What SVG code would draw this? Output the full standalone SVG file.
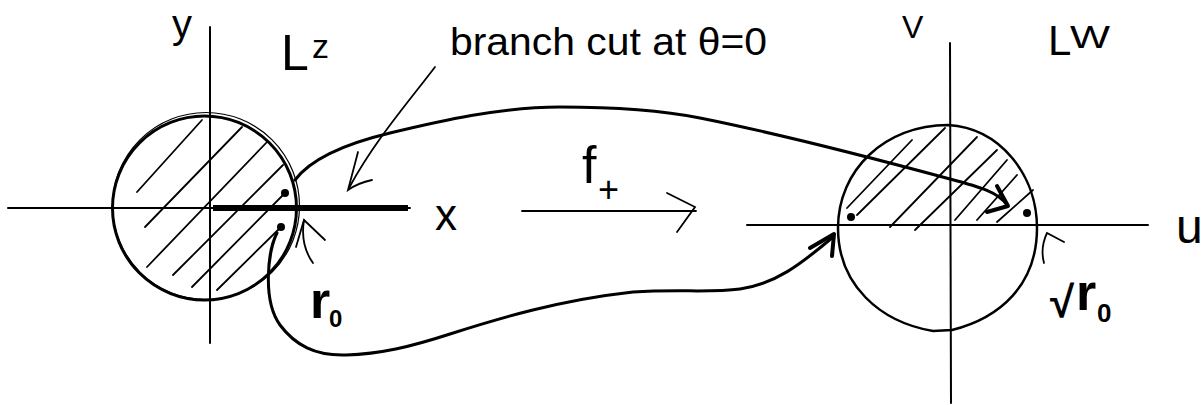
<svg xmlns="http://www.w3.org/2000/svg" width="1201" height="405" viewBox="0 0 1201 405">
<style>
.ax{stroke:#000;stroke-width:2;fill:none;stroke-linecap:round}
.ln{stroke:#000;stroke-width:1.8;fill:none;stroke-linecap:round}
.cv{stroke:#000;stroke-width:3;fill:none;stroke-linecap:round;stroke-linejoin:round}
.hd{stroke:#000;stroke-width:4;fill:none;stroke-linecap:round;stroke-linejoin:round}
.dot{fill:#000}
.t{font-family:"Liberation Sans","DejaVu Sans",sans-serif;fill:#000}
.b{font-weight:bold}
</style>
<rect width="1201" height="405" fill="#fff"/>
<g id="z-plane">
  <path class="ax" d="M8,208 L410,208"/>
  <path d="M213,208 L408,208" stroke="#000" stroke-width="6" stroke-linecap="butt"/>
  <path class="ax" d="M210,27 L210,343"/>
  <circle cx="204.5" cy="208" r="92" fill="none" stroke="#000" stroke-width="3"/>
  <circle cx="206" cy="206" r="93.5" fill="none" stroke="#000" stroke-width="1.2"/>
  <g class="ln">
    <path d="M137,192 L202,120"/>
    <path d="M145,227 L242,127"/>
    <path d="M147,267 L267,142"/>
    <path d="M173,275 L283,165"/>
    <path d="M192,287 L284,194"/>
    <path d="M217,290 L280,228"/>
  </g>
  <circle class="dot" cx="285" cy="193" r="4"/>
  <circle class="dot" cx="281" cy="227" r="4"/>
</g>
<g id="w-plane">
  <path class="ax" d="M747,225 L1148,225"/>
  <path class="ax" d="M950,43 L951,403"/>
  <path d="M838,228 C838,170 885,125 948,125 C1000,128 1037,175 1037,228 C1037,285 1000,318 952,330 L933,331 C880,322 838,285 838,228 Z" fill="none" stroke="#000" stroke-width="2.5"/>
  <g class="ln">
    <path d="M847,208 L912,140"/>
    <path d="M857,215 L945,128"/>
    <path d="M890,227 L977,137"/>
    <path d="M915,230 L997,150"/>
    <path d="M955,220 L1007,160"/>
    <path d="M977,220 L1017,175"/>
    <path d="M997,222 L1033,190"/>
  </g>
  <circle class="dot" cx="851" cy="217" r="4"/>
  <circle class="dot" cx="1027" cy="213" r="4"/>
</g>
<g id="connectors">
  <path class="cv" d="M295,180 C310,160 340,145 390,133 C440,121 500,107 560,107 C620,107 660,110 700,118 C780,134 880,160 950,179 C980,187 998,192 1007,205"/>
  <path class="hd" d="M997,186 L1008,206 L987,212"/>
  <path class="cv" d="M277,233 C268,250 262,300 280,325 C295,345 315,356 346,355 C380,354 410,347 450,334 C500,318 560,300 633,292 C680,289 710,293 740,289 C775,284 800,265 833,237"/>
  <path class="hd" d="M810,248 L834,234 L832,256"/>
  <path class="ln" d="M435,67 C410,100 375,140 349,188"/>
  <path class="ln" d="M358,152 L348,190 Q358,183 372,180" stroke-width="2.5"/>
  <path class="ln" d="M313,263 Q300,245 304,220" stroke-width="2.5"/>
  <path class="ln" d="M296,247 L304,220 L325,240" stroke-width="2.5"/>
  <path class="ln" d="M1044,263 Q1040,248 1047,233 L1064,242" stroke-width="2"/>
  <path class="ln" d="M522,211 L696,211"/>
  <path class="ln" d="M667,193 L695,207 L677,232"/>
</g>
<g id="labels">
  <text class="t" x="172" y="38" font-size="40">y</text>
  <text class="t" x="281" y="70" font-size="50">L<tspan x="312" y="58" font-size="34">z</tspan></text>
  <text class="t" x="450" y="55" font-size="38" textLength="317" lengthAdjust="spacingAndGlyphs">branch cut at θ=0</text>
  <text class="t" x="435" y="230" font-size="44">x</text>
  <text class="t" x="582" y="183" font-size="52">f<tspan x="598" y="202" font-size="36">+</tspan></text>
  <text class="t" x="902" y="38" font-size="32">V</text>
  <text class="t" x="1048" y="55" font-size="42">L<tspan x="1070" y="48" font-size="32" textLength="40" lengthAdjust="spacingAndGlyphs">W</tspan></text>
  <text class="t" x="1176" y="243" font-size="48">u</text>
  <text class="t b" x="310" y="318" font-size="52">r<tspan x="329" y="327" font-size="24">0</tspan></text>
  <text class="t b" x="1050" y="317" font-size="44">√<tspan x="1076" y="310" font-size="52">r</tspan><tspan x="1097" y="322" font-size="26">0</tspan></text>
</g>
</svg>
